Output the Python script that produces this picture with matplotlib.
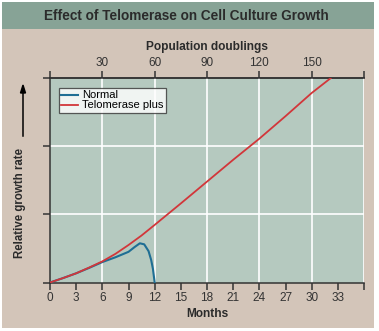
import numpy as np
import matplotlib.pyplot as plt
from matplotlib.patches import Rectangle

## DATA
normal_months = [0, 1.5, 3, 4.5, 6, 7.5, 9, 9.7, 10.3, 10.8, 11.3, 11.6, 11.8, 12.0]
normal_growth = [0, 0.065, 0.135, 0.215, 0.3, 0.37, 0.45, 0.52, 0.575, 0.56, 0.46, 0.33, 0.2, 0.0]
telo_months = [0, 1.5, 3, 4.5, 6, 7.5, 9, 10.5, 12, 15, 18, 21, 24, 27, 30, 32.2]
telo_growth = [0, 0.065, 0.135, 0.22, 0.31, 0.42, 0.55, 0.69, 0.845, 1.16, 1.48, 1.8, 2.11, 2.44, 2.78, 3.0]
month_ticks = list(range(0, 37, 3))
doubling_ticks = [0, 30, 60, 90, 120, 150, 180]
growth_ticks = [0, 1, 2, 3]

plt.rcParams['font.family'] = ['Liberation Sans', 'DejaVu Sans']

W, H = 379, 331
fig = plt.figure(figsize=(W / 100, H / 100), dpi=100)
fig.patch.set_facecolor('white')

## BACKGROUND PANEL + TITLE BAND
fig.patches.append(Rectangle((2 / W, 3 / H), 372 / W, 326 / H, transform=fig.transFigure,
                             facecolor='#d3c5b9', edgecolor='none', zorder=-2))
fig.patches.append(Rectangle((2 / W, 1 - 29 / H), 372 / W, 27 / H, transform=fig.transFigure,
                             facecolor='#87a396', edgecolor='none', zorder=-1))
fig.text(186 / W, 1 - 16 / H, 'Effect of Telomerase on Cell Culture Growth',
         ha='center', va='center', fontsize=9.8, fontweight='bold', color='#2b2b2b')

## MAIN AXES
ax = fig.add_axes([50 / W, 1 - 282.5 / H, 314 / W, 204.5 / H])
ax.set_facecolor('#b5c9bf')
ax.set_xlim(0, 36)
ax.set_ylim(0, 3)

for d in doubling_ticks[1:]:
    ax.axvline(d / 5, color='white', lw=1.2, zorder=1)
for g in growth_ticks[1:-1]:
    ax.axhline(g, color='white', lw=1.2, zorder=1)

ax.plot(normal_months, normal_growth, color='#1f6e94', lw=1.5, label='Normal', zorder=3)
ax.plot(telo_months, telo_growth, color='#d2363a', lw=1.3, label='Telomerase plus', zorder=4)

ax.spines['right'].set_visible(False)
for side in ['left', 'bottom', 'top']:
    ax.spines[side].set_color('#333333')
    ax.spines[side].set_linewidth(1.1)

ax.set_xticks(month_ticks)
ax.set_xticklabels([str(m) for m in month_ticks[:-1]] + [''])
ax.set_yticks(growth_ticks)
ax.set_yticklabels([])
ax.tick_params(axis='both', direction='out', length=5, width=1.1, color='#333333',
               labelsize=8.5, labelcolor='#333333', pad=2)
ax.set_xlabel('Months', fontsize=8.6, fontweight='bold', color='#2b2b2b', labelpad=3)

## TOP AXIS (population doublings)
sec = ax.secondary_xaxis('top', functions=(lambda m: m * 5, lambda d: d / 5))
sec.set_xticks(doubling_ticks)
sec.set_xticklabels([''] + [str(d) for d in doubling_ticks[1:-1]] + [''])
sec.spines['top'].set_color('#333333')
sec.spines['top'].set_linewidth(1.1)
sec.tick_params(direction='out', length=5, width=1.1, color='#333333',
                labelsize=8.5, labelcolor='#333333', pad=1.5)
sec.set_xlabel('Population doublings', fontsize=8.6, fontweight='bold', color='#2b2b2b', labelpad=5)

## LEGEND
leg = ax.legend(loc='upper left', bbox_to_anchor=(0.028, 0.95), fontsize=8.0, frameon=True,
                fancybox=False, edgecolor='#333333', handlelength=1.5, handletextpad=0.4,
                borderpad=0.2, labelspacing=0.0, borderaxespad=0)
leg.get_frame().set_linewidth(0.9)

## Y LABEL WITH ARROW
fig.text(20 / W, 1 - 203 / H, 'Relative growth rate', rotation=90, ha='center', va='center',
         fontsize=8.3, fontweight='bold', color='#2b2b2b')
fig.add_artist(plt.Line2D([23 / W, 23 / W], [1 - 136 / H, 1 - 92 / H], color='black', lw=1.1))
fig.patches.append(plt.Polygon([[20.5 / W, 1 - 93 / H], [25.5 / W, 1 - 93 / H], [23 / W, 1 - 85 / H]],
                               closed=True, transform=fig.transFigure, color='black'))

fig.savefig('out.png', dpi=100)
